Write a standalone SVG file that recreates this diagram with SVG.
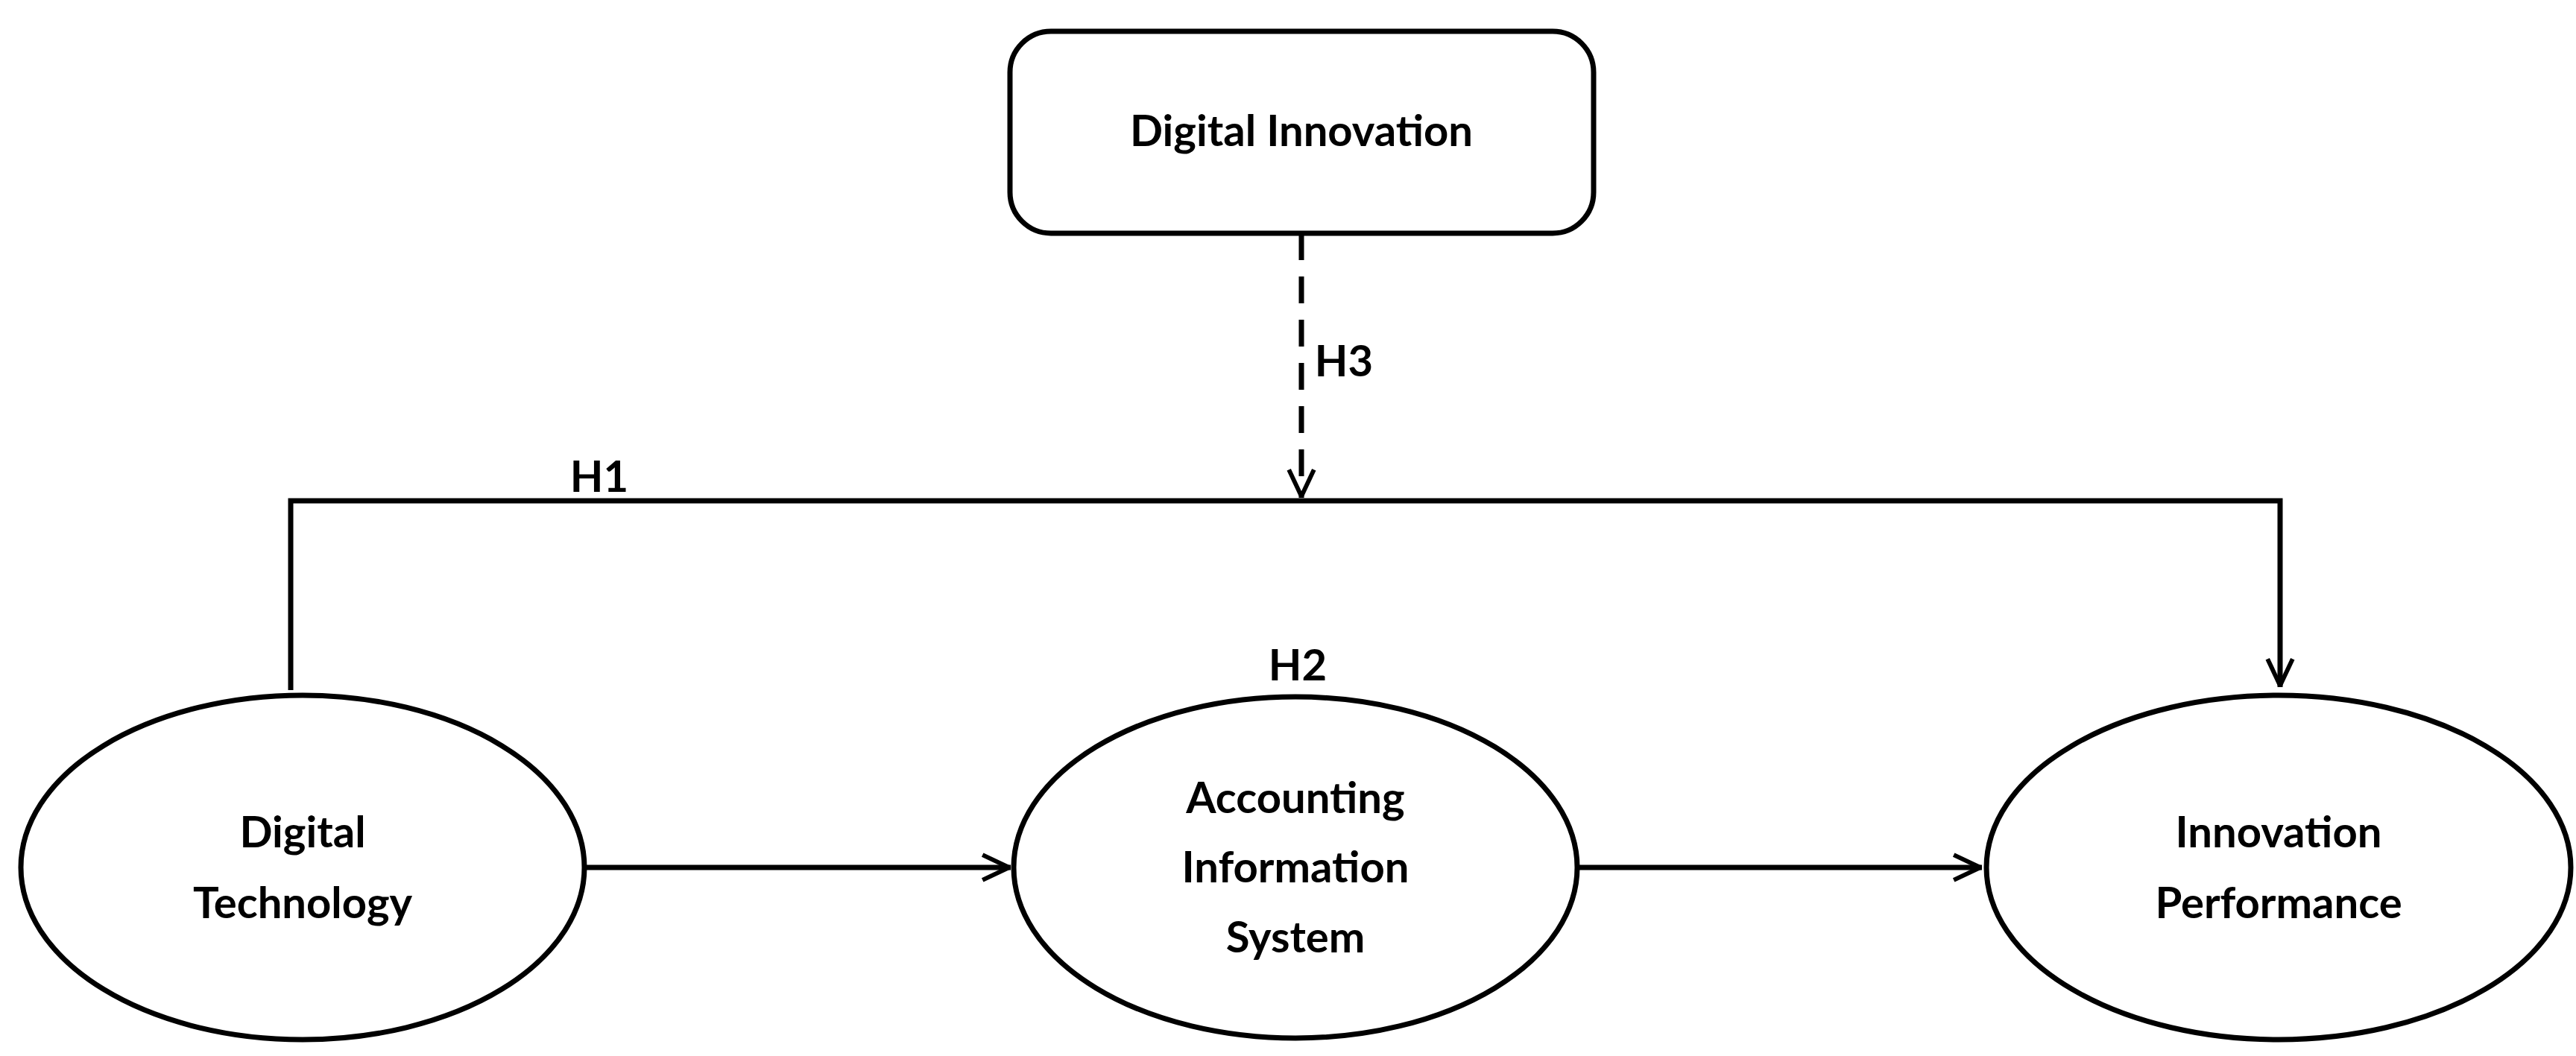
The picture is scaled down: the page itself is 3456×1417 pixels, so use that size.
<svg xmlns="http://www.w3.org/2000/svg" width="3456" height="1417" viewBox="0 0 3456 1417">
<style>
.n{fill:#fff;stroke:#000;stroke-width:7}
.t{font-family:Lato,"Open Sans",sans-serif;font-weight:bold;font-size:58px;fill:#000;text-anchor:middle}
.c{fill:none;stroke:#000;stroke-width:7}
</style>
<defs>
<marker id="a" viewBox="0 0 10 10" refX="9" refY="5" markerWidth="7" markerHeight="7" markerUnits="userSpaceOnUse" orient="auto" style="overflow:visible">
<path d="M0,0 L10,5 L0,10" fill="none" stroke="#000" stroke-width="1"/>
</marker>
<marker id="b" viewBox="0 0 10 10" refX="10" refY="5" markerWidth="6" markerHeight="8" orient="auto">
<path d="M1,1 L9.5,5 L1,9" fill="none" stroke="#000" stroke-width="1.4"/>
</marker>
</defs>
<rect width="3456" height="1417" fill="#fff"/>
<g id="connectors">
<path class="c" d="M1746,313 V668" stroke-dasharray="36,22" marker-end="url(#b)"/>
<path class="c" d="M390,926 V672 H3059 V922" marker-end="url(#b)"/>
<path class="c" d="M786,1164 H1356" marker-end="url(#b)"/>
<path class="c" d="M2116,1164 H2659" marker-end="url(#b)"/>
<text class="t" x="804" y="660">H1</text>
<text class="t" x="1741" y="913">H2</text>
<text class="t" x="1803" y="505">H3</text>
</g>
<g id="digital-innovation">
<rect class="n" x="1355" y="42" width="783" height="271" rx="55"/>
<text class="t" x="1746" y="196">Digital Innovation</text>
</g>
<g id="digital-technology">
<ellipse class="n" cx="406" cy="1164" rx="378" ry="231"/>
<text class="t" x="406" y="1137">Digital</text>
<text class="t" x="406" y="1232">Technology</text>
</g>
<g id="ais">
<ellipse class="n" cx="1738" cy="1164" rx="378" ry="229"/>
<text class="t" x="1738" y="1091">Accounting</text>
<text class="t" x="1738" y="1184">Information</text>
<text class="t" x="1738" y="1278">System</text>
</g>
<g id="innovation-performance">
<ellipse class="n" cx="3057" cy="1164" rx="392" ry="231"/>
<text class="t" x="3057" y="1137">Innovation</text>
<text class="t" x="3057" y="1232">Performance</text>
</g>
</svg>
